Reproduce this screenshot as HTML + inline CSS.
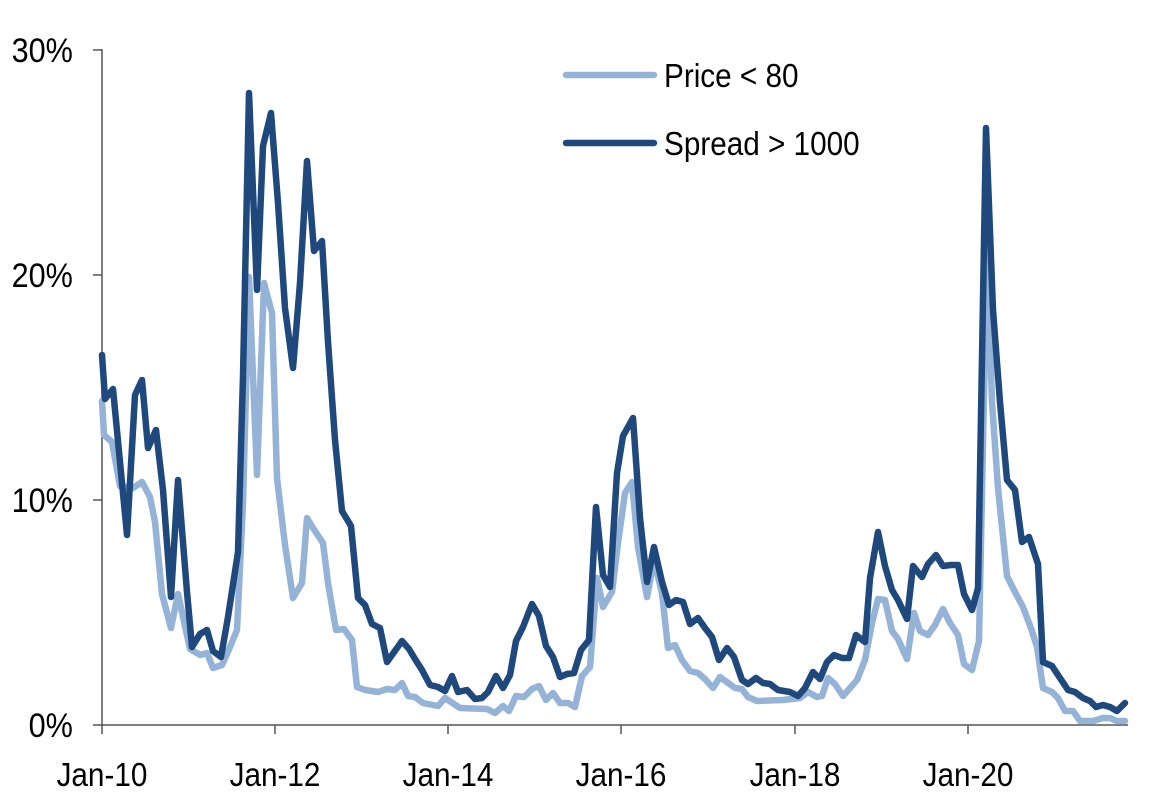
<!DOCTYPE html>
<html><head><meta charset="utf-8"><style>
html,body{margin:0;padding:0;background:#fff}
svg{display:block}
text{font-family:"Liberation Sans",Arial,sans-serif;fill:#000}
</style></head><body>
<svg width="1163" height="803" viewBox="0 0 1163 803">
<g stroke="#555" stroke-width="1.5" fill="none">
<line x1="102" y1="49" x2="102" y2="726"/>
<line x1="101" y1="725" x2="1128" y2="725"/>
<line x1="93" y1="50" x2="102" y2="50"/>
<line x1="93" y1="275" x2="102" y2="275"/>
<line x1="93" y1="500" x2="102" y2="500"/>
<line x1="93" y1="725" x2="102" y2="725"/>
<line x1="102" y1="725" x2="102" y2="734"/>
<line x1="275" y1="725" x2="275" y2="734"/>
<line x1="448" y1="725" x2="448" y2="734"/>
<line x1="621" y1="725" x2="621" y2="734"/>
<line x1="795" y1="725" x2="795" y2="734"/>
<line x1="968" y1="725" x2="968" y2="734"/>
</g>
<g font-size="34" text-anchor="end" transform="scale(0.9,1)">
<text x="81" y="62">30%</text>
<text x="81" y="287">20%</text>
<text x="81" y="737">0%</text>
<text x="81" y="512">10%</text>
</g>
<g font-size="33" text-anchor="middle" transform="scale(0.9,1)">
<text x="113.3" y="786">Jan-10</text>
<text x="305.6" y="786">Jan-12</text>
<text x="497.8" y="786">Jan-14</text>
<text x="690" y="786">Jan-16</text>
<text x="883.3" y="786">Jan-18</text>
<text x="1075.6" y="786">Jan-20</text>
</g>
<g fill="none" stroke-width="6.5" stroke-linejoin="round" stroke-linecap="round">
<polyline stroke="#95b3d7" points="102,401 104,435 112,442 120,486 133,488 142,482 150,497 155,522 162,594 171,628 178,594 190,649 200,655 207,653 213,668 222,665 230,647 237,630 243,503 249,277 257,475 264,283 272,313 277,478 285,545 293,598 302,583 307,518 313,528 323,543 328,583 336,630 344,629 352,640 357,687 365,690 378,692 387,689 395,690 402,683 408,696 415,697 423,703 438,706 445,698 460,708 487,709 495,713 503,706 509,711 516,696 524,697 532,689 539,686 546,700 553,693 560,703 568,703 575,707 582,676 590,667 597,578 603,607 612,592 618,543 625,493 632,482 638,547 647,597 654,560 662,593 668,648 675,645 682,660 690,671 698,673 705,679 713,688 720,677 735,688 742,689 748,697 757,701 783,700 800,698 808,692 817,697 822,696 828,678 835,684 843,696 850,688 857,680 865,660 872,623 878,599 885,600 892,631 898,639 907,659 914,613 920,631 928,635 935,625 943,609 950,623 958,635 964,664 972,670 979,641 987,245 992,402 998,488 1007,576 1015,592 1023,607 1032,631 1037,647 1043,688 1052,692 1058,698 1065,711 1073,711 1080,721 1093,721 1103,718 1110,718 1117,721 1125,721"/>
<polyline stroke="#1f497d" points="102,355 105,399 113,389 127,535 135,395 142,380 148,448 156,430 163,490 171,597 178,480 187,592 192,647 200,634 207,630 213,651 221,657 228,617 238,552 243,376 249,93 257,290 263,146 271,113 278,203 285,308 293,368 300,283 307,161 314,251 322,241 328,342 335,440 342,511 351,526 358,598 365,605 372,624 380,628 387,662 402,641 409,649 415,659 422,670 430,685 438,687 445,691 452,676 458,692 467,690 475,699 482,698 488,692 496,676 503,688 510,675 516,641 523,627 532,604 539,616 546,646 553,657 560,677 567,674 574,673 581,650 589,640 596,507 603,575 610,587 617,473 623,436 633,418 640,518 647,582 654,547 662,582 669,605 676,600 683,602 690,624 698,618 705,628 712,637 719,660 727,648 734,657 742,680 748,684 756,678 763,683 770,684 778,690 790,692 798,696 805,688 813,672 820,679 827,662 834,655 842,658 849,658 856,635 865,642 870,578 878,532 885,566 892,590 898,600 907,619 913,566 922,577 928,564 936,555 943,566 951,565 958,565 964,594 972,610 978,588 986,128 993,310 1000,402 1007,480 1015,490 1022,542 1029,537 1038,564 1043,662 1052,666 1060,678 1068,690 1075,692 1083,698 1090,701 1096,707 1103,705 1110,707 1117,711 1125,703"/>
<line x1="566" y1="75" x2="654" y2="75" stroke="#95b3d7"/>
<line x1="566" y1="143" x2="654" y2="143" stroke="#1f497d"/>
</g>
<g font-size="33" transform="scale(0.9,1)">
<text x="737.8" y="87">Price &lt; 80</text>
<text x="737.8" y="155">Spread &gt; 1000</text>
</g>
</svg>
</body></html>
